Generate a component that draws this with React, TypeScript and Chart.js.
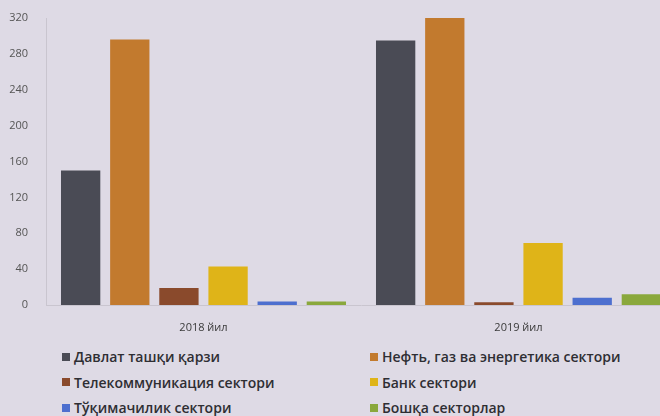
import React, { useEffect, useRef } from "react";
import { Chart, registerables } from "chart.js";

Chart.register(...registerables);

const categories = ["2018 йил", "2019 йил"];
const seriesNames = [
  "Давлат ташқи қарзи",
  "Нефть, газ ва энергетика сектори",
  "Телекоммуникация сектори",
  "Банк сектори",
  "Тўқимачилик сектори",
  "Бошқа секторлар",
];
const davlat = [150, 295];
const neft = [296, 321];
const telekom = [19, 3];
const bank = [43, 69];
const tuqimachilik = [4, 8];
const boshqa = [4, 12];
const yTicks = [0, 40, 80, 120, 160, 200, 240, 280, 320];

const seriesValues = [davlat, neft, telekom, bank, tuqimachilik, boshqa];
const colors = ["#4a4b55", "#c27a2e", "#8a4a2c", "#dfb418", "#4d6fcf", "#8aa83c"];
const leftCol = [0, 2, 4];
const rightCol = [1, 3, 5];

export default function App() {
  const ref = useRef<HTMLCanvasElement | null>(null);

  useEffect(() => {
    if (!ref.current) return;
    const chart = new Chart(ref.current, {
      type: "bar",
      data: {
        labels: categories,
        datasets: seriesNames.map((name, i) => ({
          label: name,
          data: seriesValues[i],
          backgroundColor: colors[i],
          borderWidth: 0,
          categoryPercentage: 0.936,
          barPercentage: 0.8,
        })),
      },
      options: {
        animation: false,
        responsive: true,
        maintainAspectRatio: false,
        layout: { padding: { top: 18, right: 4, left: 0, bottom: 0 } },
        plugins: { legend: { display: false }, tooltip: { enabled: false } },
        scales: {
          x: {
            grid: { display: false },
            border: { display: true, color: "#c9c5cf", width: 1 },
            ticks: {
              color: "#3a3a3a",
              font: { family: "'Open Sans', sans-serif", size: 11 },
              padding: 8,
            },
            afterFit: (s: any) => {
              s.height = 30;
            },
          },
          y: {
            min: 0,
            max: 320,
            afterBuildTicks: (s: any) => {
              s.ticks = yTicks.map((v) => ({ value: v }));
            },
            grid: { display: false },
            border: { display: true, color: "#c9c5cf", width: 1 },
            ticks: {
              color: "#555",
              font: { family: "'Open Sans', sans-serif", size: 11 },
              padding: 10,
            },
            afterFit: (s: any) => {
              s.width = 46;
            },
          },
        },
      },
    });
    return () => chart.destroy();
  }, []);

  const col = (idx: number[]) =>
    idx.map((i) => (
      <div
        key={i}
        style={{ display: "flex", alignItems: "center", height: 25.5 }}
      >
        <span
          style={{
            display: "inline-block",
            width: 8,
            height: 8,
            background: colors[i],
            marginRight: 4,
          }}
        />
        <span>{seriesNames[i]}</span>
      </div>
    ));

  const legendStyle: React.CSSProperties = {
    position: "absolute",
    top: 344,
    fontFamily: "'Open Sans', sans-serif",
    fontWeight: 600,
    fontSize: 14,
    color: "#2e2e33",
    whiteSpace: "nowrap",
  };

  return (
    <div
      style={{
        position: "fixed",
        left: 0,
        top: 0,
        width: 660,
        height: 416,
        overflow: "hidden",
        background: "#dedae5",
      }}
    >
      <div style={{ position: "absolute", left: 0, top: 0, width: 680, height: 335 }}>
        <canvas ref={ref} />
      </div>
      <div style={{ ...legendStyle, left: 62 }}>{col(leftCol)}</div>
      <div style={{ ...legendStyle, left: 370 }}>{col(rightCol)}</div>
    </div>
  );
}
